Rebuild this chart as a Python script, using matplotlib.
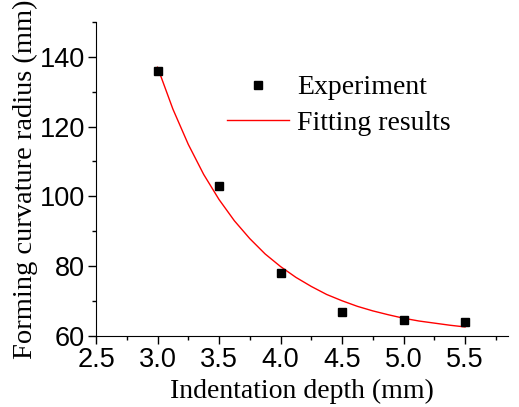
import matplotlib.pyplot as plt
from matplotlib.ticker import MultipleLocator

# experimental points
depth = [3.0, 3.5, 4.0, 4.5, 5.0, 5.5]
radius = [136, 103, 78, 67, 64.5, 64]

# fitted curve
fit_depth = [3.0, 3.125, 3.25, 3.375, 3.5, 3.625, 3.75, 3.875, 4.0, 4.125, 4.25,
             4.375, 4.5, 4.625, 4.75, 4.875, 5.0, 5.125, 5.25, 5.375, 5.5]
fit_radius = [137.0, 125.0, 114.9, 106.3, 99.1, 93.0, 87.9, 83.5, 79.9, 76.8, 74.2,
              71.9, 70.1, 68.5, 67.2, 66.1, 65.1, 64.3, 63.7, 63.1, 62.6]

serif = "Liberation Serif"
sans = "Liberation Sans"

fig = plt.figure(figsize=(5.19, 4.07), dpi=100)
ax = fig.add_axes([0.185, 0.1744, 0.794, 0.772])

ax.plot(depth, radius, "s", color="black", markersize=6, label="Experiment", zorder=3)
ax.plot(fit_depth, fit_radius, color="red", linewidth=1.0, label="Fitting results")

ax.set_xlim(2.5, 5.85)
ax.set_ylim(60, 150)
ax.xaxis.set_major_locator(MultipleLocator(0.5))
ax.xaxis.set_minor_locator(MultipleLocator(0.25))
ax.yaxis.set_minor_locator(MultipleLocator(10))
ax.set_yticks([60, 80, 100, 120, 140])

for side in ("top", "right"):
    ax.spines[side].set_visible(False)
ax.tick_params(which="major", direction="out", length=6, width=1, labelsize=19.5, pad=2)
ax.tick_params(which="minor", direction="out", length=3, width=1)
for lab in ax.get_xticklabels() + ax.get_yticklabels():
    lab.set_family(sans)

ax.set_xlabel("Indentation depth (mm)", family=serif, fontsize=20, labelpad=4)
ax.set_ylabel("Forming curvature radius (mm)", family=serif, fontsize=20.5, labelpad=1)

ax.legend(loc="upper left", bbox_to_anchor=(0.292, 0.866), frameon=False,
          prop={"family": serif, "size": 20}, handlelength=2.2, handletextpad=0.3,
          labelspacing=0.35, borderaxespad=0)

fig.savefig("out.png", dpi=100)
